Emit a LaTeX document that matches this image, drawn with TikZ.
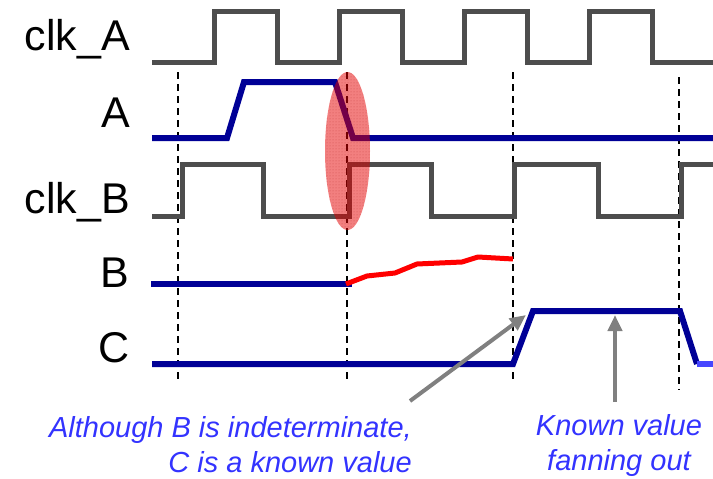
\documentclass[tikz,border=0pt]{standalone}
\usepackage{fontspec}
\setmainfont{Liberation Sans}
\usetikzlibrary{arrows.meta,patterns}
\definecolor{clkgray}{RGB}{77,77,77}
\definecolor{navy}{RGB}{0,0,150}
\definecolor{txtblue}{RGB}{51,51,255}
\definecolor{lblue}{RGB}{70,70,255}
\definecolor{arrgray}{RGB}{128,128,128}
\begin{document}
\begin{tikzpicture}[x=1pt,y=-1pt,
  clk/.style={draw=clkgray,line width=5pt,line join=miter},
  sig/.style={draw=navy,line width=6pt,line join=miter},
  guide/.style={draw=black,line width=1.7pt,dash pattern=on 7pt off 5pt},
  lbl/.style={anchor=base east,font=\fontsize{43}{43}\selectfont,inner sep=0pt},
  note/.style={font=\fontsize{29}{35}\selectfont\itshape,text=txtblue,inner sep=0pt},
  pointer/.style={draw=arrgray,line width=4pt,-{Triangle[length=16pt,width=14pt]}}]
\useasboundingbox (0,0) rectangle (713,479);
% labels
\node[lbl] (lclkA) at (130,50.5) {clk\_A};
\node[lbl] (lA) at (130,127) {A};
\node[lbl] (lclkB) at (130,213) {clk\_B};
\node[lbl] (lB) at (129,287) {B};
\node[lbl] (lC) at (130,362) {C};
% guide lines
\draw[guide] (178,72) -- (178,383);
\draw[guide] (347,72) -- (347,383);
\draw[guide] (513,72) -- (513,383);
\draw[guide] (679,77) -- (679,390);
% clk_A
\draw[clk] (152,62) -| (214,11) -| (277,62) -| (339,11) -| (402,62) -| (464,11) -| (527,62) -| (589,11) -| (652,62) -- (713,62);
% A
\draw[sig] (152,138) -- (227,138) -- (244,82) -- (335,82) -- (353,138) -- (713,138);
% clk_B
\draw[clk] (152,216) -| (182,164) -| (263,216) -| (349,164) -| (431,216) -| (514,164) -| (598,216) -| (681,164) -- (713,164);
% B
\draw[sig] (151,284) -- (352,284);
\draw[red,line width=5pt,line join=round] (346,284) -- (367,276) -- (395,273) -- (417,264) -- (462,262) -- (478,257) -- (513,259);
% C
\draw[sig] (152,364) -- (513,364) -- (533,311) -- (680,311) -- (697,364);
\draw[lblue,line width=6pt] (697,364) -- (713,364);
% metastability ellipse
\fill[red!90!black,fill opacity=0.5] (347.5,151) ellipse [x radius=22.5,y radius=79];
\fill[pattern=dots,pattern color=red!60!black,opacity=0.4] (347.5,151) ellipse [x radius=22.5,y radius=79];
% notes
\node[note,anchor=base east,align=right] (n1) at (412,472) {Although B is indeterminate,\\C is a known value};
\node[note,anchor=base,align=center] (n2) at (619,470) {Known value\\fanning out};
\coordinate (t1) at (410,401);
\coordinate (h1) at (526,315);
\coordinate (t2) at (615,402);
\coordinate (h2) at (615,315);
\draw[pointer] (t1) -- (h1);
\draw[pointer] (t2) -- (h2);
\end{tikzpicture}
\end{document}
